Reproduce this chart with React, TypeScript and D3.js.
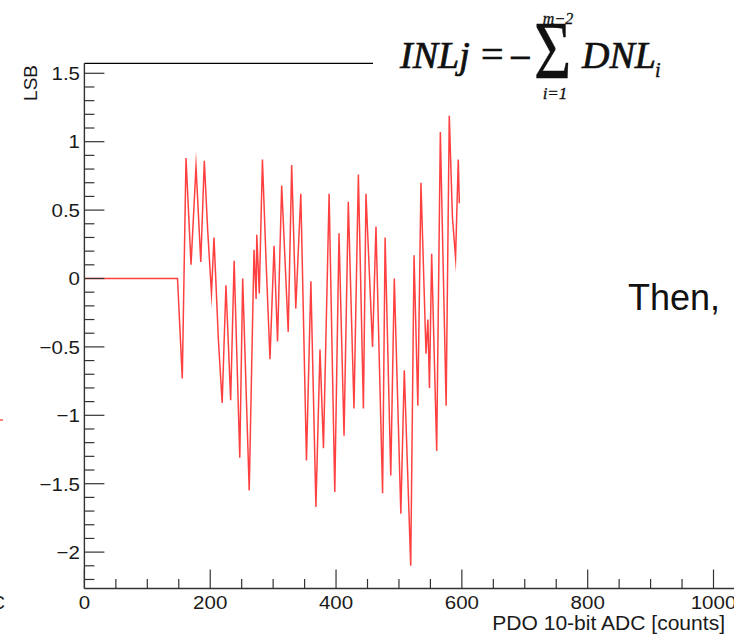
import React, { useEffect } from 'react';
import * as d3 from 'd3';

// INL curve (ADC count, LSB)
const adcCounts = [
  0, 148, 155.6, 161.5, 169.5, 177.4, 185, 190.6, 196, 202,
  206, 213, 219, 225, 232.5, 238, 247, 251.6, 262, 269.6,
  273, 274, 278, 283, 289, 295, 301.5, 307, 313.6, 324,
  329.5, 336, 344, 353, 360, 368, 374.5, 380, 389, 398,
  404.7, 412.7, 419.5, 428.5, 435.5, 443.5, 447.6, 458, 463.5, 474,
  478, 487, 492.6, 503, 508.5, 518.7, 524, 530, 535, 543,
  546, 548.5, 552, 560, 565.8, 575, 580, 585, 590, 594.3,
  596,
];
const inlValues = [
  0, 0, -0.73, 0.88, 0.10, 0.82, 0.12, 0.86, 0.35, -0.11,
  0.30, -0.45, -0.91, -0.05, -0.89, 0.13, -1.31, 0.0, -1.55, 0.21,
  -0.15, 0.32, -0.11, 0.87, 0.10, -0.59, 0.24, -0.46, 0.68, -0.39,
  0.83, -0.22, 0.62, -1.33, -0.02, -1.67, -0.52, -1.24, 0.62, -1.56,
  0.33, -1.15, 0.56, -0.95, 0.76, -0.95, 0.62, -0.50, 0.38, -1.57,
  0.30, -1.44, 0.0, -1.72, -0.67, -2.10, 0.17, -0.93, 0.70, -0.55,
  -0.30, -0.80, 0.18, -1.26, 1.07, -0.93, 1.19, 0.45, 0.15, 0.87,
  0.55,
];

const xMajorTicks = [0, 200, 400, 600, 800, 1000];
const yMajorTicks = [-2, -1.5, -1, -0.5, 0, 0.5, 1, 1.5];

const fmt = (v: number) => (v < 0 ? '\u2212' + String(-v) : String(v));

export default function App() {
  useEffect(() => {
    document.body.style.margin = '0';
    document.body.style.overflow = 'hidden';
  }, []);

  const x = d3.scaleLinear().domain([0, 1000]).range([84.4, 713.5]);
  const y = d3.scaleLinear().domain([-2.266, 1.573]).range([588.5, 63.3]);

  const x0 = x(0);
  const yBottom = y(-2.266);
  const yTop = y(1.573);

  const xMinor = d3.range(50, 1100, 50).filter(v => v % 200 !== 0);
  const yMinor = d3.range(-22, 16, 1).map(v => v / 10).filter(v => Math.abs(v * 2 - Math.round(v * 2)) > 1e-6);

  const pts = adcCounts.map((c, i) => [c, inlValues[i]] as [number, number]);
  const line = d3.line<[number, number]>().x(d => x(d[0])).y(d => y(d[1]));

  const sans = '"Liberation Sans", Arial, Helvetica, sans-serif';
  const serif = '"Liberation Serif", "Times New Roman", serif';
  const axisColor = '#333';
  const labelColor = '#1a1a1a';
  const stretch = 1.08;

  return (
    <svg width={734} height={635} style={{ position: 'fixed', left: 0, top: 0, background: '#fff' }}>
      {/* data */}
      <path d={line(pts) ?? ''} fill="none" stroke="#ff0000" strokeWidth={1.5} strokeOpacity={0.75}
        strokeLinejoin="miter" strokeMiterlimit={20} />

      {/* frame */}
      <line x1={x0} x2={373} y1={yTop} y2={yTop} stroke="#000" strokeWidth={1.2} />
      <line x1={x0} x2={x0} y1={yTop} y2={yBottom} stroke={axisColor} strokeWidth={1.4} />
      <line x1={x0} x2={734} y1={yBottom} y2={yBottom} stroke={axisColor} strokeWidth={1.4} />

      {/* x ticks */}
      {xMajorTicks.map(t => (
        <g key={'xm' + t}>
          <line x1={x(t)} x2={x(t)} y1={yBottom} y2={yBottom - 19} stroke={axisColor} strokeWidth={1.2} />
          <text transform={`translate(${x(t)},609) scale(${stretch},1)`} textAnchor="middle"
            fontFamily={sans} fontSize={19} fill={labelColor}>{t}</text>
        </g>
      ))}
      {xMinor.map(t => (
        <line key={'xn' + t} x1={x(t)} x2={x(t)} y1={yBottom} y2={yBottom - 9.5} stroke={axisColor} strokeWidth={1.2} />
      ))}

      {/* y ticks */}
      {yMajorTicks.map(t => (
        <g key={'ym' + t}>
          <line x1={x0} x2={x0 + 20} y1={y(t)} y2={y(t)} stroke={axisColor} strokeWidth={1.2} />
          <text transform={`translate(80,${y(t) + 6.8}) scale(${stretch},1)`} textAnchor="end"
            fontFamily={sans} fontSize={19} fill={labelColor}>{fmt(t)}</text>
        </g>
      ))}
      {yMinor.map(t => (
        <line key={'yn' + t} x1={x0} x2={x0 + 10} y1={y(t)} y2={y(t)} stroke={axisColor} strokeWidth={1.2} />
      ))}

      {/* axis titles */}
      <text transform="translate(37,65) rotate(-90)" textAnchor="end" fontFamily={sans} fontSize={19} fill={labelColor}>LSB</text>
      <text transform={`translate(725,630) scale(${stretch},1)`} textAnchor="end" fontFamily={sans} fontSize={19.5}
        fill={labelColor}>PDO 10-bit ADC [counts]</text>

      {/* stray bits at the left edge of the slide */}
      <line x1={0} x2={3} y1={420} y2={420} stroke="#ff0000" strokeWidth={1} />
      <text x={5} y={609} textAnchor="end" fontFamily={sans} fontSize={19} fill={labelColor}>C</text>

      {/* formula */}
      <g fontFamily={serif} fill="#111" stroke="#111" strokeWidth={0.7}>
        <text x={400} y={68} fontSize={38} fontStyle="italic">INLj</text>
        <text x={481} y={68} fontSize={40}>=</text>
        <text x={509} y={71} fontSize={40}>{'\u2212'}</text>
        <text transform="translate(534,78) scale(0.78,1)" fontSize={82} strokeWidth={0.4}>{'\u03A3'}</text>
        <text x={558} y={24} textAnchor="middle" fontSize={16} fontStyle="italic" strokeWidth={0.3}>m{'\u2212'}2</text>
        <text x={555} y={99} textAnchor="middle" fontSize={17} fontStyle="italic" strokeWidth={0.3}>i=1</text>
        <text x={582} y={68} fontSize={38} fontStyle="italic">DNL</text>
        <text x={655} y={77} fontSize={20} fontStyle="italic" strokeWidth={0.4}>i</text>
      </g>

      <text x={628} y={310} fontFamily={sans} fontSize={36} fill="#111">Then,</text>
    </svg>
  );
}
